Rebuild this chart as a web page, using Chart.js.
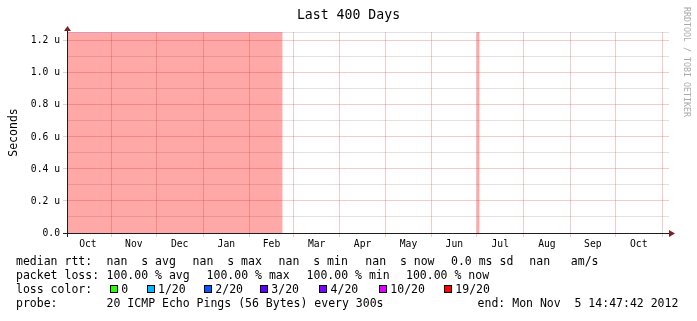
<!DOCTYPE html>
<html>
<head>
<meta charset="utf-8">
<script src="https://cdn.jsdelivr.net/npm/chart.js@4.4.1/dist/chart.umd.min.js"></script>
<style>
  body { margin: 0; background: #fff; }
  #wrap { position: relative; width: 697px; height: 321px; font-family: 'DejaVu Sans Mono', monospace; }
  canvas { display: block; }
  .lg { position: absolute; white-space: pre; font-size: 11.5px; line-height: 14px; color: #000; }
  .box { position: absolute; width: 8px; height: 8px; box-sizing: border-box; border: 1px solid #000; }
  #wm { position: absolute; left: 682px; top: 7px; writing-mode: vertical-rl; font-size: 8.3px; line-height: 10px; color: #aaa; white-space: pre; }
</style>
</head>
<body>
<div id="wrap">
  <canvas id="myChart" width="697" height="321"></canvas>
  <div id="wm">RRDTOOL / TOBI OETIKER</div>
</div>
<script>
// time axis in days counted from 1 Oct 2011 00:00
const startDay = 1.616;   // Sun Oct  2 14:47:42 2011
const endDay = 401.616;   // Mon Nov  5 14:47:42 2012
const monthNames = ['Oct', 'Nov', 'Dec', 'Jan', 'Feb', 'Mar', 'Apr', 'May', 'Jun', 'Jul', 'Aug', 'Sep', 'Oct'];
const monthStarts = [0, 31, 61, 92, 123, 152, 183, 213, 244, 274, 305, 336, 366, 397];

// y axis in microseconds
const yTicks = [0, 0.1, 0.2, 0.3, 0.4, 0.5, 0.6, 0.7, 0.8, 0.9, 1.0, 1.1, 1.2];
const yMax = 1.256;

// periods with 100% loss (no rtt, drawn full height)
const lossFrom = [1.616, 273.8];
const lossTo = [144.9, 275.8];
const lossLevel = [1.256, 1.256];

const lossLabels = ['0', '1/20', '2/20', '3/20', '4/20', '10/20', '19/20'];
const lossColors = ['#26ff00', '#00b8ff', '#0059ff', '#5e00ff', '#7e00ff', '#dd00ff', '#ff0000'];

const legendRows = [
  [[16, 'median rtt:'], [106.6, 'nan  s avg'], [192.6, 'nan  s max'], [278.6, 'nan  s min'], [365.3, 'nan  s now'], [451, '0.0 ms sd'], [529.3, 'nan   am/s']],
  [[16, 'packet loss:'], [106.6, '100.00 % avg'], [206.6, '100.00 % max'], [306.6, '100.00 % min'], [406, '100.00 % now']],
  [[16, 'loss color:']],
  [[16, 'probe:'], [106.6, '20 ICMP Echo Pings (56 Bytes) every 300s'], [477.6, 'end: Mon Nov  5 14:47:42 2012']]
];
const rowTops = [254.3, 268.3, 282.3, 296.3];
const lossBoxX = [110, 146.7, 204, 260, 319.3, 379, 444];

const mono = 'DejaVu Sans Mono';
const majorGrid = 'rgba(222,79,79,0.3)';
const minorGrid = 'rgba(128,128,128,0.24)';

// legend below the chart
const wrap = document.getElementById('wrap');
legendRows.forEach((row, r) => {
  row.forEach(([x, txt]) => {
    const d = document.createElement('div');
    d.className = 'lg';
    d.style.left = x + 'px';
    d.style.top = rowTops[r] + 'px';
    d.textContent = txt;
    wrap.appendChild(d);
  });
});
lossLabels.forEach((lbl, i) => {
  const b = document.createElement('div');
  b.className = 'box';
  b.style.left = lossBoxX[i] + 'px';
  b.style.top = '285px';
  b.style.background = lossColors[i];
  wrap.appendChild(b);
  const t = document.createElement('div');
  t.className = 'lg';
  t.style.left = (lossBoxX[i] + 11.3) + 'px';
  t.style.top = rowTops[2] + 'px';
  t.textContent = lbl;
  wrap.appendChild(t);
});

// ticks: month boundaries carry the grid, month middles carry the names
const monthBounds = monthStarts.filter(d => d > startDay && d < endDay);
const monthMids = monthNames.map((n, i) => (monthStarts[i] + monthStarts[i + 1]) / 2);
const xTickValues = monthBounds.concat(monthMids).sort((a, b) => a - b);

const lossPoints = [];
lossFrom.forEach((f, i) => {
  if (i > 0) lossPoints.push({ x: f, y: null });
  lossPoints.push({ x: f, y: lossLevel[i] }, { x: lossTo[i], y: lossLevel[i] });
});

const axisArrows = {
  id: 'axisArrows',
  afterDraw(chart) {
    const { ctx, chartArea: a } = chart;
    ctx.save();
    ctx.strokeStyle = '#1f1f1f';
    ctx.lineWidth = 1;
    ctx.beginPath();
    ctx.moveTo(a.left - 4, a.bottom + 0.5);
    ctx.lineTo(a.right + 2, a.bottom + 0.5);
    ctx.moveTo(a.left + 0.5, a.bottom + 4);
    ctx.lineTo(a.left + 0.5, a.top - 2);
    ctx.stroke();
    ctx.fillStyle = '#801f1f';
    ctx.beginPath();
    ctx.moveTo(a.right, a.bottom - 3);
    ctx.lineTo(a.right + 6, a.bottom + 0.5);
    ctx.lineTo(a.right, a.bottom + 4);
    ctx.fill();
    ctx.beginPath();
    ctx.moveTo(a.left - 3, a.top - 1);
    ctx.lineTo(a.left + 0.5, a.top - 6);
    ctx.lineTo(a.left + 4, a.top - 1);
    ctx.fill();
    ctx.restore();
  }
};

const chart = new Chart(document.getElementById('myChart'), {
  type: 'line',
  data: {
    datasets: [{
      data: lossPoints,
      fill: 'origin',
      backgroundColor: 'rgba(255,0,0,0.34)',
      borderColor: 'rgba(190,160,235,0.9)',
      borderWidth: 1,
      pointRadius: 0,
      spanGaps: false,
      tension: 0
    }]
  },
  options: {
    responsive: false,
    animation: false,
    layout: { padding: { bottom: 68 } },
    plugins: {
      legend: { display: false },
      tooltip: { enabled: false },
      title: {
        display: true,
        text: 'Last 400 Days',
        color: '#000',
        font: { family: mono, size: 13.2, weight: 'normal' },
        padding: { top: 8, bottom: 8.16 }
      }
    },
    scales: {
      x: {
        type: 'linear',
        min: startDay,
        max: endDay,
        z: 1,
        afterBuildTicks: s => { s.ticks = xTickValues.map(v => ({ value: v })); },
        afterFit: s => { s.height = 20; },
        grid: {
          color: c => monthBounds.includes(c.tick.value) ? majorGrid : 'rgba(0,0,0,0)',
          tickColor: c => monthBounds.includes(c.tick.value) ? majorGrid : 'rgba(0,0,0,0)',
          tickLength: 4
        },
        border: { display: false },
        ticks: {
          autoSkip: false,
          maxRotation: 0,
          minRotation: 0,
          padding: 2,
          color: '#000',
          font: { family: mono, size: 9.7 },
          callback: v => {
            const i = monthMids.findIndex(m => Math.abs(m - v) < 1e-6);
            return i < 0 ? '' : monthNames[i];
          }
        }
      },
      y: {
        type: 'linear',
        min: 0,
        max: yMax,
        z: 1,
        afterBuildTicks: s => { s.ticks = yTicks.concat([yMax]).map(v => ({ value: v })); },
        afterFit: s => { s.width = 67; },
        grid: {
          color: c => {
            const k = Math.round(c.tick.value * 10);
            if (c.tick.value > 1.25 || k % 2) return minorGrid;
            return majorGrid;
          },
          tickColor: c => {
            const k = Math.round(c.tick.value * 10);
            return (c.tick.value < 1.25 && k % 2 === 0) ? majorGrid : 'rgba(0,0,0,0)';
          },
          tickLength: 4
        },
        border: { display: false },
        ticks: {
          autoSkip: false,
          padding: 3,
          color: '#000',
          font: { family: mono, size: 9.7 },
          callback: v => {
            const k = Math.round(v * 10);
            if (Math.abs(v * 10 - k) > 0.01 || k % 2) return '';
            return k === 0 ? '0.0' : (k / 10).toFixed(1) + ' u';
          }
        },
        title: {
          display: true,
          text: 'Seconds',
          color: '#000',
          font: { family: mono, size: 11.5 },
          padding: { top: 7.5, bottom: 0 }
        }
      },
      yR: {
        type: 'linear',
        position: 'right',
        display: true,
        grid: { display: false },
        ticks: { display: false },
        border: { display: false },
        afterFit: s => { s.width = 28; }
      }
    }
  },
  plugins: [axisArrows]
});
</script>
</body>
</html>
